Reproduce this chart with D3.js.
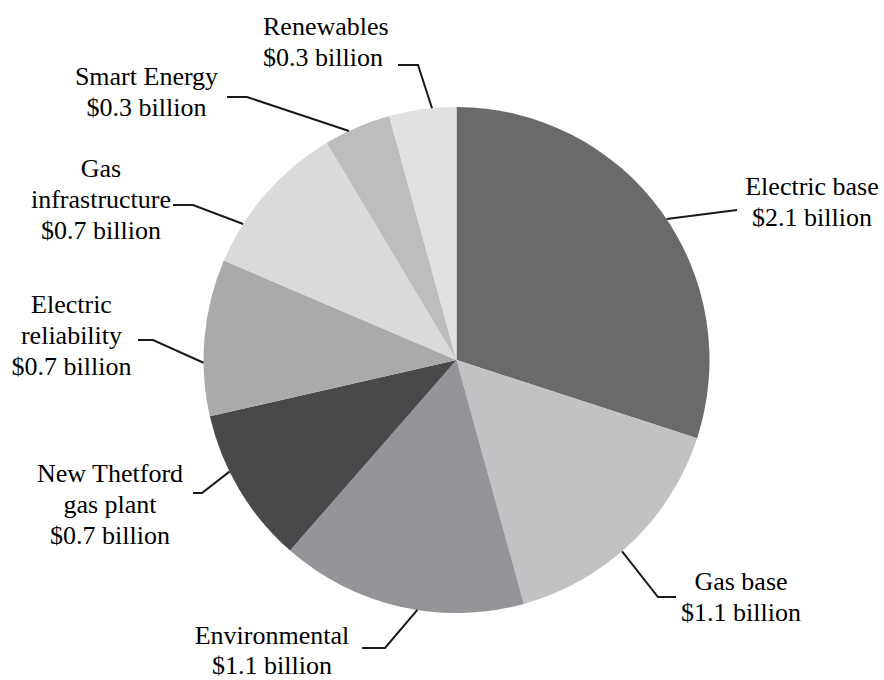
<!DOCTYPE html>
<html>
<head>
<meta charset="utf-8">
<script src="https://cdn.jsdelivr.net/npm/d3@7"></script>
</head>
<body style="margin:0">
<svg id="chart" width="884" height="680"></svg>
<script>
// Capital spending by program, $ billions (clockwise from 12 o'clock)
const categories = ["Electric base", "Gas base", "Environmental", "New Thetford gas plant",
  "Electric reliability", "Gas infrastructure", "Smart Energy", "Renewables"];
const values = [2.1, 1.1, 1.1, 0.7, 0.7, 0.7, 0.3, 0.3];
// Label lines as printed next to each slice
const labelLines = [
  ["Electric base", "$2.1 billion"],
  ["Gas base", "$1.1 billion"],
  ["Environmental", "$1.1 billion"],
  ["New Thetford", "gas plant", "$0.7 billion"],
  ["Electric", "reliability", "$0.7 billion"],
  ["Gas", "infrastructure", "$0.7 billion"],
  ["Smart Energy", "$0.3 billion"],
  ["Renewables", "$0.3 billion"]
];
const colors = ["#6a6a6c", "#c1c2c4", "#949598", "#48494b", "#a9aaac", "#d9dadc", "#bcbdbf", "#dfe0e1"];

const cx = 456.5, cy = 360, radius = 253;
const lineGap = 31;

// Label layout in page coordinates: text x (with its anchor), first baseline y,
// leader elbow and end of the short horizontal stub, and where along
// the slice's rim (fraction of its angular span) the leader starts.
const labelLayout = [
  { tx: 812, ty: 195, anchor: "middle", elbow: null,       stub: [737, 210], frac: 0.52 },
  { tx: 741, ty: 590, anchor: "middle", elbow: [658, 597], stub: [676, 597], frac: 0.55 },
  { tx: 272, ty: 644, anchor: "middle", elbow: [385, 648], stub: [362, 648], frac: 0.43 },
  { tx: 110, ty: 482, anchor: "middle", elbow: [202, 493], stub: [193, 493], frac: 0.63 },
  { tx: 71.5, ty: 313, anchor: "middle", elbow: [153, 340], stub: [138, 340], frac: 0.34 },
  { tx: 101, ty: 177, anchor: "middle", elbow: [193, 205], stub: [173, 205], frac: 0.26 },
  { tx: 146.5, ty: 85, anchor: "middle", elbow: [247, 97], stub: [227, 97], frac: 0.37 },
  { tx: 263, ty: 35,  anchor: "start",  elbow: [418, 65],  stub: [398, 65], frac: 0.64 }
];

const svg = d3.select("#chart");
const g = svg.append("g").attr("transform", `translate(${cx},${cy})`);

const data = categories.map((c, i) => ({ name: c, value: values[i], i }));
const pie = d3.pie().value(d => d.value).sort(null);
const arcs = pie(data);
const arc = d3.arc().innerRadius(0).outerRadius(radius);

g.selectAll("path.slice")
  .data(arcs)
  .join("path")
  .attr("class", "slice")
  .attr("d", arc)
  .attr("fill", d => colors[d.data.i]);

const labels = svg.append("g");

arcs.forEach((a, k) => {
  const L = labelLayout[k];
  const ang = a.startAngle + (a.endAngle - a.startAngle) * L.frac;
  const rim = [cx + Math.sin(ang) * radius, cy - Math.cos(ang) * radius];
  const pts = [rim];
  if (L.elbow) pts.push(L.elbow);
  pts.push(L.stub);
  labels.append("path")
    .attr("d", d3.line()(pts))
    .attr("fill", "none")
    .attr("stroke", "#1a1a1a")
    .attr("stroke-width", 2);

  // one text element per printed line
  labelLines[k].forEach((line, j) => {
    labels.append("text")
      .attr("x", L.tx)
      .attr("y", L.ty + j * (k === 2 ? 30 : lineGap))
      .attr("text-anchor", L.anchor)
      .attr("font-size", 26)
      .style("font-family", '"Liberation Serif"')
      .text(line);
  });
});
</script>
</body>
</html>
